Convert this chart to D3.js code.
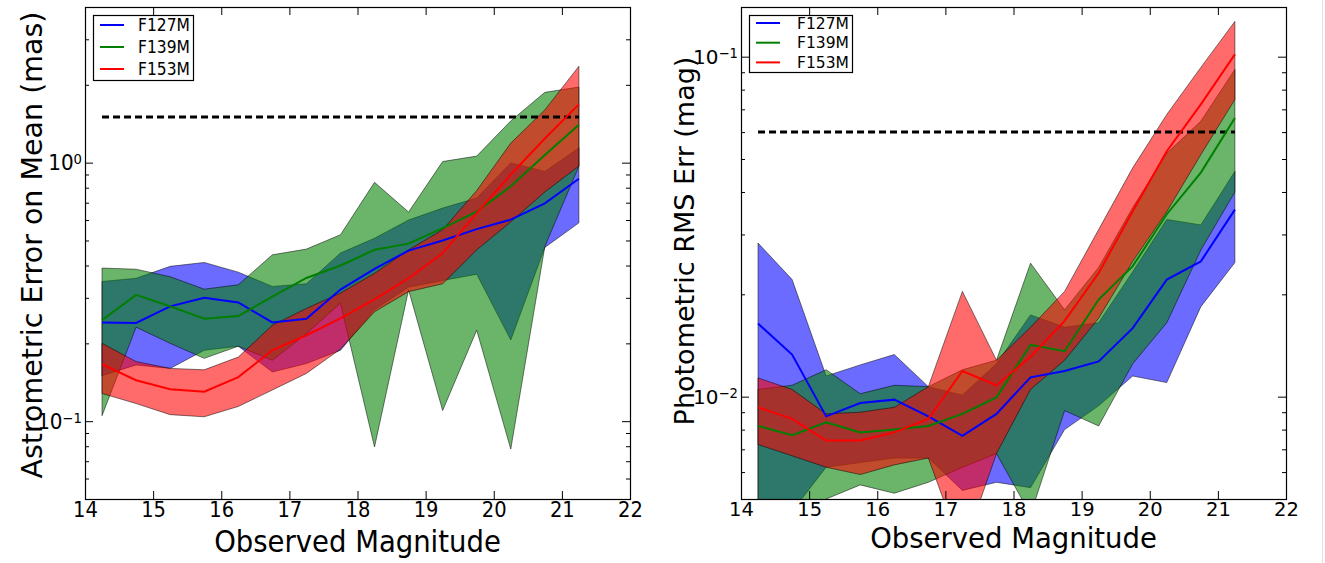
<!DOCTYPE html>
<html>
<head>
<meta charset="utf-8">
<script src="https://cdn.jsdelivr.net/npm/d3@7"></script>
<style>
  body { margin: 0; background: #fff; }
  svg { display: block; font-family: "DejaVu Sans", sans-serif; }
</style>
</head>
<body>
<svg id="chart" width="1325" height="563"></svg>
<script>
// magnitude bins (bin centres)
const mags = [14.25, 14.75, 15.25, 15.75, 16.25, 16.75, 17.25, 17.75, 18.25, 18.75, 19.25, 19.75, 20.25, 20.75, 21.25];
const filters = ["F127M", "F139M", "F153M"];
const xTicks = [14, 15, 16, 17, 18, 19, 20, 21, 22];

// astrometric error on mean (mas): median and band edges
const astF127M   = [0.241, 0.240, 0.278, 0.300, 0.288, 0.241, 0.249, 0.323, 0.388, 0.457, 0.500, 0.553, 0.602, 0.696, 0.866];
const astF127MHi = [0.347, 0.357, 0.397, 0.411, 0.377, 0.332, 0.340, 0.447, 0.510, 0.600, 0.667, 0.730, 0.997, 0.925, 1.14];
const astF127MLo = [0.150, 0.165, 0.160, 0.188, 0.195, 0.155, 0.167, 0.188, 0.270, 0.330, 0.350, 0.370, 0.206, 0.470, 0.585];
const astF139M   = [0.246, 0.308, 0.278, 0.249, 0.255, 0.303, 0.358, 0.400, 0.460, 0.486, 0.558, 0.647, 0.810, 1.07, 1.40];
const astF139MHi = [0.391, 0.387, 0.362, 0.324, 0.337, 0.440, 0.463, 0.526, 0.839, 0.644, 1.01, 1.06, 1.45, 1.87, 1.96];
const astF139MLo = [0.105, 0.231, 0.200, 0.175, 0.195, 0.172, 0.218, 0.286, 0.0795, 0.322, 0.110, 0.225, 0.078, 0.474, 0.970];
const astF153M   = [0.166, 0.144, 0.133, 0.130, 0.148, 0.188, 0.215, 0.250, 0.296, 0.357, 0.447, 0.638, 0.900, 1.24, 1.68];
const astF153MHi = [0.200, 0.170, 0.160, 0.158, 0.177, 0.235, 0.273, 0.313, 0.373, 0.460, 0.550, 0.780, 1.19, 1.60, 2.36];
const astF153MLo = [0.128, 0.117, 0.106, 0.104, 0.114, 0.132, 0.153, 0.190, 0.265, 0.317, 0.340, 0.460, 0.590, 0.770, 0.970];
const astLimit = 1.5;

// photometric rms error (mag)
const photF127M   = [0.0164, 0.0133, 0.00875, 0.00958, 0.0098, 0.00875, 0.00767, 0.0089, 0.0114, 0.0119, 0.0127, 0.0159, 0.0221, 0.0250, 0.0355];
const photF127MHi = [0.0283, 0.0221, 0.0115, 0.0124, 0.0133, 0.0107, 0.0101, 0.0125, 0.0174, 0.0160, 0.0165, 0.0233, 0.0332, 0.0320, 0.0460];
const photF127MLo = [0.0049, 0.0046, 0.0062, 0.0064, 0.0066, 0.0066, 0.0053, 0.0056, 0.0054, 0.0080, 0.0094, 0.0115, 0.0110, 0.0184, 0.0248];
const photF139M   = [0.0082, 0.0077, 0.0084, 0.00785, 0.0080, 0.0082, 0.0089, 0.00995, 0.0142, 0.0136, 0.0193, 0.0242, 0.0344, 0.0456, 0.0660];
const photF139MHi = [0.0105, 0.0108, 0.0120, 0.0102, 0.0108, 0.0107, 0.0120, 0.0128, 0.0247, 0.0180, 0.0240, 0.0360, 0.0520, 0.0646, 0.0917];
const photF139MLo = [0.0048, 0.0044, 0.0050, 0.0055, 0.0052, 0.0056, 0.0062, 0.0068, 0.0045, 0.0091, 0.0082, 0.0125, 0.0165, 0.0270, 0.0400];
const photF153M   = [0.0093, 0.0086, 0.00743, 0.00743, 0.00785, 0.0086, 0.0119, 0.0108, 0.0131, 0.0167, 0.0231, 0.0351, 0.0527, 0.0724, 0.1016];
const photF153MHi = [0.01135, 0.0105, 0.0089, 0.0090, 0.0093, 0.0107, 0.0204, 0.0128, 0.0160, 0.0204, 0.0310, 0.0471, 0.0676, 0.0930, 0.127];
const photF153MLo = [0.00723, 0.0067, 0.0062, 0.0059, 0.0063, 0.0066, 0.0035, 0.0068, 0.0105, 0.0128, 0.0170, 0.0250, 0.0350, 0.0515, 0.0748];
const photLimit = 0.06;

const colors = ["#0000ff", "#007f00", "#ff0000"];

const svg = d3.select("#chart");
const plotTop = 7, plotW = 545, plotH = 492;

// faint page edge on the right
svg.append("line").attr("x1", 1322.5).attr("x2", 1322.5).attr("y1", 0).attr("y2", 563)
  .attr("stroke", "#e2e2e2");

function drawPanel(p) {
  const g = svg.append("g").attr("transform", `translate(${p.left},${plotTop})`);
  const x = d3.scaleLinear().domain([14, 22]).range([0, plotW]);
  const y = d3.scaleLog().domain(p.yDomain).range([plotH, 0]);
  const s = p.stretch;   // this panel's text looks a bit taller than wide

  svg.append("clipPath").attr("id", p.id + "-clip")
    .append("rect").attr("width", plotW).attr("height", plotH);
  const body = g.append("g").attr("clip-path", `url(#${p.id}-clip)`);

  const band = d3.area().x(d => x(d.m)).y0(d => y(d.lo)).y1(d => y(d.hi));
  const line = d3.line().x(d => x(d.m)).y(d => y(d.v));

  // shaded bands first, then the medians on top
  p.series.forEach((ser, k) => {
    body.append("path")
      .datum(mags.map((m, i) => ({m: m, lo: ser.lo[i], hi: ser.hi[i]})))
      .attr("d", band)
      .attr("fill", colors[k]).attr("fill-opacity", 0.58)
      .attr("stroke", "#000").attr("stroke-opacity", 0.5).attr("stroke-width", 1);
  });

  body.append("path")
    .datum([mags[0], mags[mags.length - 1]].map(m => ({m: m, v: p.limit})))
    .attr("d", line)
    .attr("fill", "none").attr("stroke", "#000")
    .attr("stroke-width", 3).attr("stroke-dasharray", "7,4");

  p.series.forEach((ser, k) => {
    body.append("path")
      .datum(mags.map((m, i) => ({m: m, v: ser.mid[i]})))
      .attr("d", line)
      .attr("fill", "none").attr("stroke", colors[k]).attr("stroke-width", 2);
  });

  // ticks on all four sides, pointing in
  const allTicks = y.ticks();
  const majors = allTicks.filter(v => Math.abs(Math.log10(v) - Math.round(Math.log10(v))) < 1e-6);
  const minors = allTicks.filter(v => !majors.includes(v));
  const noDomain = sel => sel.select(".domain").remove();

  const xb = g.append("g").attr("transform", `translate(0,${plotH})`)
    .call(d3.axisBottom(x).tickValues(xTicks).tickFormat(d3.format("d"))
      .tickSize(-8).tickSizeOuter(0).tickPadding(0))
    .call(noDomain);
  xb.attr("font-size", 19.5).attr("font-family", "DejaVu Sans");
  xb.selectAll(".tick text")
    .attr("y", p.xTickPad / s).attr("dy", "0.72em").attr("transform", `scale(1,${s})`);

  g.append("g")
    .call(d3.axisTop(x).tickValues(xTicks).tickFormat("").tickSize(-8).tickSizeOuter(0))
    .call(noDomain);

  const yl = g.append("g")
    .call(d3.axisLeft(y).tickValues(majors).tickFormat("").tickSize(-8).tickSizeOuter(0).tickPadding(3))
    .call(noDomain);
  yl.attr("font-size", 20).attr("font-family", "DejaVu Sans");
  yl.selectAll(".tick text")
    .attr("transform", `scale(1,${s})`)
    .each(function(d) {
      const t = d3.select(this);
      t.text("10");
      t.append("tspan").attr("dy", "-0.42em").attr("font-size", "0.66em")
        .text(String(Math.round(Math.log10(d))).replace("-", "\u2212"));
    });
  g.append("g")
    .call(d3.axisLeft(y).tickValues(minors).tickFormat("").tickSize(-4).tickSizeOuter(0))
    .call(noDomain);

  g.append("g").attr("transform", `translate(${plotW},0)`)
    .call(d3.axisRight(y).tickValues(majors).tickFormat("").tickSize(-8).tickSizeOuter(0))
    .call(noDomain);
  g.append("g").attr("transform", `translate(${plotW},0)`)
    .call(d3.axisRight(y).tickValues(minors).tickFormat("").tickSize(-4).tickSizeOuter(0))
    .call(noDomain);

  g.append("rect").attr("x", 0.5).attr("y", 0.5).attr("width", plotW).attr("height", plotH)
    .attr("fill", "none").attr("stroke", "#000").attr("stroke-width", 1.2);

  // axis titles
  svg.append("text")
    .attr("transform", `translate(${p.left + plotW / 2},${p.xLabelY}) scale(1,${s})`)
    .attr("text-anchor", "middle").attr("font-size", 27.5)
    .text("Observed Magnitude");
  svg.append("text")
    .attr("transform", `translate(${p.yLabelX},${p.yLabelMid}) rotate(-90)`)
    .attr("text-anchor", "middle").attr("font-size", p.yLabelSize)
    .text(p.yLabel);

  // legend
  const lg = g.append("g").attr("transform", "translate(8,8)");
  lg.append("rect").attr("x", 0.5).attr("y", 0.5)
    .attr("width", p.legendW).attr("height", p.legendH)
    .attr("fill", "#fff").attr("stroke", "#000").attr("stroke-width", 1.2);
  filters.forEach((f, k) => {
    const ry = p.legendRow0 + k * p.legendStep;
    lg.append("line").attr("x1", 7).attr("x2", 31).attr("y1", ry).attr("y2", ry)
      .attr("stroke", colors[k]).attr("stroke-width", 2);
    lg.append("text")
      .attr("transform", `translate(${p.legendTextX},${ry}) scale(1,${s})`)
      .attr("dy", "0.36em").attr("font-size", 15.5).text(f);
  });
}

drawPanel({
  id: "astro", left: 85, yDomain: [0.05, 4], limit: astLimit, stretch: 1.08,
  xTickPad: 3, xLabelY: 552, yLabelX: 42, yLabelMid: 245, yLabelSize: 28.5,
  yLabel: "Astrometric Error on Mean (mas)",
  legendW: 100, legendH: 65, legendRow0: 10, legendStep: 22, legendTextX: 45,
  series: [
    {mid: astF127M, lo: astF127MLo, hi: astF127MHi},
    {mid: astF139M, lo: astF139MLo, hi: astF139MHi},
    {mid: astF153M, lo: astF153MLo, hi: astF153MHi}
  ]
});

drawPanel({
  id: "phot", left: 741, yDomain: [0.005, 0.14], limit: photLimit, stretch: 1.0,
  xTickPad: 3, xLabelY: 548, yLabelX: 694, yLabelMid: 241, yLabelSize: 27,
  yLabel: "Photometric RMS Err (mag)",
  legendW: 103, legendH: 57, legendRow0: 8, legendStep: 19.7, legendTextX: 48,
  series: [
    {mid: photF127M, lo: photF127MLo, hi: photF127MHi},
    {mid: photF139M, lo: photF139MLo, hi: photF139MHi},
    {mid: photF153M, lo: photF153MLo, hi: photF153MHi}
  ]
});
</script>
</body>
</html>
